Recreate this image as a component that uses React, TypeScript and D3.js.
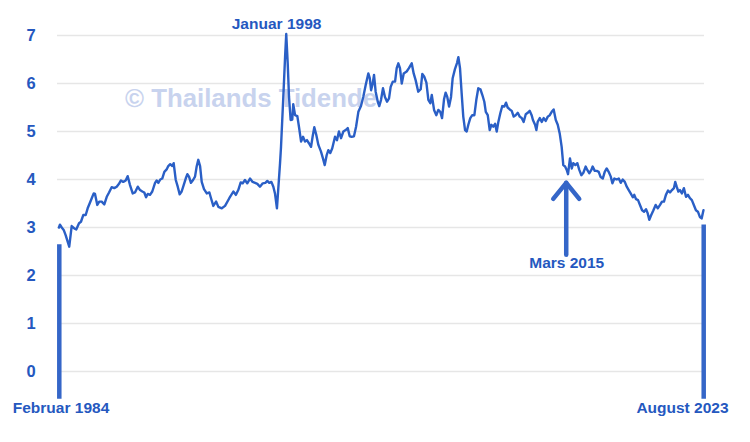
import React, { useEffect } from "react";
import * as d3 from "d3";

// Decimal years (Feb 1984 .. Aug 2023) and values
const dates: number[] = [
  1984.08, 1984.14, 1984.25, 1984.37, 1984.49, 1984.71, 1984.86, 1985.02, 1985.14, 1985.31,
  1985.43, 1985.57, 1985.72, 1985.84, 1985.96, 1986.09, 1986.21, 1986.29, 1986.43, 1986.55,
  1986.70, 1986.86, 1987.01, 1987.15, 1987.31, 1987.47, 1987.62, 1987.76, 1987.88, 1988.02,
  1988.17, 1988.29, 1988.43, 1988.60, 1988.74, 1988.91, 1989.05, 1989.19, 1989.31, 1989.42,
  1989.52, 1989.66, 1989.80, 1989.97, 1990.07, 1990.17, 1990.29, 1990.41, 1990.54, 1990.68,
  1990.78, 1990.90, 1991.03, 1991.11, 1991.24, 1991.36, 1991.48, 1991.60, 1991.73, 1991.85,
  1991.95, 1992.05, 1992.17, 1992.30, 1992.42, 1992.52, 1992.62, 1992.73, 1992.83, 1992.97,
  1993.14, 1993.30, 1993.40, 1993.54, 1993.71, 1993.85, 1994.06, 1994.26, 1994.52, 1994.77,
  1994.92, 1995.07, 1995.22, 1995.34, 1995.48, 1995.62, 1995.79, 1995.95, 1996.10, 1996.24,
  1996.40, 1996.57, 1996.73, 1996.85, 1996.97, 1997.10, 1997.22, 1997.32, 1997.44, 1997.63,
  1997.69, 1997.83, 1997.94, 1998.01, 1998.10, 1998.18, 1998.28, 1998.38, 1998.44, 1998.55,
  1998.69, 1998.79, 1998.92, 1999.04, 1999.16, 1999.28, 1999.41, 1999.53, 1999.63, 1999.73,
  1999.85, 1999.98, 2000.14, 2000.26, 2000.37, 2000.49, 2000.59, 2000.71, 2000.83, 2001.00,
  2001.12, 2001.24, 2001.37, 2001.51, 2001.65, 2001.78, 2001.90, 2002.02, 2002.16, 2002.29,
  2002.43, 2002.59, 2002.73, 2002.88, 2003.04, 2003.13, 2003.21, 2003.31, 2003.39, 2003.49,
  2003.62, 2003.71, 2003.82, 2003.94, 2004.06, 2004.19, 2004.31, 2004.41, 2004.54, 2004.68,
  2004.78, 2004.88, 2004.98, 2005.09, 2005.21, 2005.39, 2005.53, 2005.70, 2005.82, 2005.94,
  2006.10, 2006.25, 2006.35, 2006.47, 2006.60, 2006.72, 2006.84, 2006.93, 2007.07, 2007.21,
  2007.33, 2007.45, 2007.56, 2007.68, 2007.78, 2007.88, 2007.99, 2008.11, 2008.21, 2008.35,
  2008.48, 2008.56, 2008.66, 2008.76, 2008.86, 2008.97, 2009.07, 2009.17, 2009.29, 2009.41,
  2009.54, 2009.66, 2009.78, 2009.91, 2010.03, 2010.15, 2010.24, 2010.36, 2010.48, 2010.58,
  2010.70, 2010.81, 2010.91, 2011.01, 2011.13, 2011.25, 2011.38, 2011.48, 2011.58, 2011.71,
  2011.83, 2011.95, 2012.07, 2012.20, 2012.32, 2012.44, 2012.56, 2012.69, 2012.81, 2012.93,
  2013.05, 2013.13, 2013.26, 2013.34, 2013.42, 2013.55, 2013.67, 2013.79, 2013.91, 2014.04,
  2014.16, 2014.28, 2014.40, 2014.53, 2014.65, 2014.77, 2014.89, 2014.99, 2015.10, 2015.20,
  2015.28, 2015.40, 2015.51, 2015.60, 2015.73, 2015.85, 2015.97, 2016.10, 2016.22, 2016.36,
  2016.46, 2016.58, 2016.71, 2016.79, 2016.92, 2017.04, 2017.16, 2017.28, 2017.41, 2017.53,
  2017.65, 2017.77, 2017.90, 2018.00, 2018.12, 2018.27, 2018.39, 2018.51, 2018.63, 2018.76,
  2018.88, 2019.00, 2019.12, 2019.25, 2019.34, 2019.45, 2019.57, 2019.69, 2019.82, 2019.94,
  2020.06, 2020.16, 2020.26, 2020.38, 2020.50, 2020.65, 2020.78, 2020.92, 2021.04, 2021.16,
  2021.28, 2021.41, 2021.53, 2021.65, 2021.77, 2021.85, 2021.94, 2022.04, 2022.14, 2022.26,
  2022.38, 2022.51, 2022.63, 2022.75, 2022.87, 2022.99, 2023.12, 2023.24, 2023.36, 2023.47,
  2023.58,
];

const values: number[] = [
  3.00, 3.06, 3.00, 2.95, 2.84, 2.60, 3.03, 2.98, 2.96, 3.09,
  3.12, 3.26, 3.26, 3.40, 3.50, 3.61, 3.71, 3.70, 3.47, 3.54,
  3.54, 3.48, 3.64, 3.73, 3.84, 3.82, 3.85, 3.91, 3.98, 3.95,
  3.98, 4.07, 3.89, 3.71, 3.73, 3.85, 3.78, 3.75, 3.73, 3.63,
  3.70, 3.68, 3.75, 3.93, 3.98, 3.93, 4.00, 4.02, 4.16, 4.21,
  4.28, 4.32, 4.28, 4.34, 3.99, 3.85, 3.69, 3.75, 3.89, 4.02,
  4.11, 4.06, 3.93, 3.99, 4.06, 4.27, 4.41, 4.28, 3.95, 3.80,
  3.71, 3.73, 3.61, 3.45, 3.54, 3.43, 3.40, 3.45, 3.61, 3.75,
  3.68, 3.78, 3.94, 3.92, 3.99, 3.92, 4.02, 3.95, 3.93, 3.91,
  3.85, 3.92, 3.93, 3.97, 3.93, 3.95, 3.85, 3.71, 3.40, 4.34,
  4.68, 5.72, 6.56, 7.03, 6.42, 5.72, 5.24, 5.25, 5.57, 5.34,
  5.32, 5.10, 4.79, 4.89, 4.79, 4.82, 4.75, 4.68, 4.90, 5.09,
  4.93, 4.72, 4.58, 4.44, 4.30, 4.51, 4.61, 4.55, 4.65, 4.89,
  4.82, 5.00, 4.86, 5.00, 5.03, 5.07, 4.90, 4.89, 4.90, 5.10,
  5.41, 5.53, 5.72, 5.97, 6.21, 6.11, 5.86, 6.00, 6.18, 5.83,
  5.62, 5.53, 5.66, 5.90, 5.72, 5.62, 5.69, 5.93, 6.04, 6.04,
  6.32, 6.42, 6.32, 6.00, 6.21, 6.25, 6.32, 6.42, 6.21, 6.07,
  5.83, 5.88, 6.20, 6.14, 6.02, 5.66, 5.59, 5.76, 5.45, 5.34,
  5.45, 5.41, 5.28, 5.67, 5.81, 5.72, 5.52, 5.72, 6.11, 6.30,
  6.43, 6.55, 6.32, 5.80, 5.31, 5.03, 5.00, 5.14, 5.28, 5.34,
  5.34, 5.66, 5.90, 5.88, 5.76, 5.62, 5.41, 5.34, 5.03, 5.14,
  5.10, 5.16, 5.00, 5.20, 5.38, 5.53, 5.52, 5.60, 5.50, 5.46,
  5.43, 5.31, 5.34, 5.39, 5.31, 5.28, 5.20, 5.36, 5.39, 5.43,
  5.34, 5.24, 5.14, 5.03, 5.20, 5.28, 5.20, 5.28, 5.22, 5.31,
  5.34, 5.41, 5.46, 5.24, 5.14, 4.96, 4.68, 4.30, 4.27, 4.20,
  4.11, 4.44, 4.23, 4.34, 4.30, 4.34, 4.20, 4.09, 4.14, 4.27,
  4.20, 4.13, 4.20, 4.27, 4.18, 4.18, 4.16, 4.05, 4.02, 4.16,
  4.23, 4.16, 4.06, 3.92, 4.02, 4.00, 4.02, 3.93, 4.00, 3.95,
  3.85, 3.78, 3.71, 3.63, 3.68, 3.59, 3.57, 3.47, 3.36, 3.33,
  3.38, 3.30, 3.16, 3.26, 3.35, 3.47, 3.40, 3.47, 3.54, 3.54,
  3.68, 3.77, 3.73, 3.78, 3.82, 3.95, 3.85, 3.75, 3.78, 3.71,
  3.82, 3.64, 3.68, 3.61, 3.57, 3.47, 3.36, 3.33, 3.22, 3.19,
  3.36,
];

const yTicks: number[] = [0, 1, 2, 3, 4, 5, 6, 7];

// Annotations
const startDate = 1984.083;
const endDate = 2023.583;
const peakDate = 1998.0;
const marchDate = 2015.17;
const startLabel = "Februar 1984";
const endLabel = "August 2023";
const peakLabel = "Januar 1998";
const marchLabel = "Mars 2015";
const watermark = "© Thailands Tidende";

const W = 750;
const H = 442;
const BLUE = "#2a5fc6";
const BAR = "#3566c8";
const TEXT = "#2558bf";
const FONT = "'Liberation Sans', Arial, Helvetica, sans-serif";

export default function App() {
  useEffect(() => {
    document.body.style.margin = "0";
  }, []);

  const x = d3.scaleLinear().domain([startDate, endDate]).range([59, 703.5]);
  const y = d3.scaleLinear().domain([0, 7]).range([371.5, 35.5]);

  const pts: [number, number][] = dates.map((d, i) => [d, values[i]]);
  const line = d3
    .line<[number, number]>()
    .x((d) => x(d[0]))
    .y((d) => y(d[1]))
    .curve(d3.curveLinear);

  const barBottom = y(-0.57);
  const arrowX = x(marchDate);
  const arrowTip = y(3.93);
  const arrowBase = y(2.43);

  return (
    <svg
      width={W}
      height={H}
      viewBox={`0 0 ${W} ${H}`}
      style={{ display: "block", background: "#fff" }}
    >
      <rect x={0} y={0} width={W} height={H} fill="#fff" />
      {/* gridlines */}
      {yTicks.map((t) => (
        <line
          key={"g" + t}
          x1={57}
          x2={704}
          y1={y(t)}
          y2={y(t)}
          stroke="#e6e6e6"
          strokeWidth={1.5}
        />
      ))}
      {/* y labels */}
      {yTicks.map((t) => (
        <text
          key={"t" + t}
          x={31}
          y={y(t)}
          dy="0.36em"
          textAnchor="middle"
          fontFamily={FONT}
          fontWeight="bold"
          fontSize={16.5}
          fill={TEXT}
        >
          {t}
        </text>
      ))}
      {/* watermark */}
      <text
        x={125}
        y={107}
        fontFamily={FONT}
        fontWeight="bold"
        fontSize={26}
        fill="#c8d3ee"
        textLength={252}
        lengthAdjust="spacingAndGlyphs"
      >
        {watermark}
      </text>
      {/* series */}
      <path
        d={line(pts) || ""}
        fill="none"
        stroke={BLUE}
        strokeWidth={2.4}
        strokeLinejoin="round"
        strokeLinecap="round"
      />
      {/* start / end bars */}
      <line
        x1={x(startDate) + 0.3}
        x2={x(startDate) + 0.3}
        y1={y(2.65)}
        y2={barBottom}
        stroke={BAR}
        strokeWidth={4.5}
      />
      <line
        x1={x(endDate) + 0.2}
        x2={x(endDate) + 0.2}
        y1={y(3.06)}
        y2={barBottom}
        stroke={BAR}
        strokeWidth={4.5}
      />
      {/* arrow */}
      <g stroke={BAR} strokeWidth={4.5} strokeLinecap="round" strokeLinejoin="round" fill="none">
        <line x1={arrowX} x2={arrowX} y1={arrowBase} y2={arrowTip} />
        <polyline
          points={`${arrowX - 13},${arrowTip + 16} ${arrowX},${arrowTip} ${arrowX + 13},${arrowTip + 16}`}
        />
      </g>
      {/* labels */}
      <g fontFamily={FONT} fontWeight="bold" fontSize={15.5} fill={TEXT} textAnchor="middle">
        <text x={x(peakDate) - 9.5} y={29}>
          {peakLabel}
        </text>
        <text x={x(marchDate) + 0.5} y={268}>
          {marchLabel}
        </text>
        <text x={x(startDate) + 2} y={413}>
          {startLabel}
        </text>
        <text x={x(endDate) - 21} y={413}>
          {endLabel}
        </text>
      </g>
    </svg>
  );
}
